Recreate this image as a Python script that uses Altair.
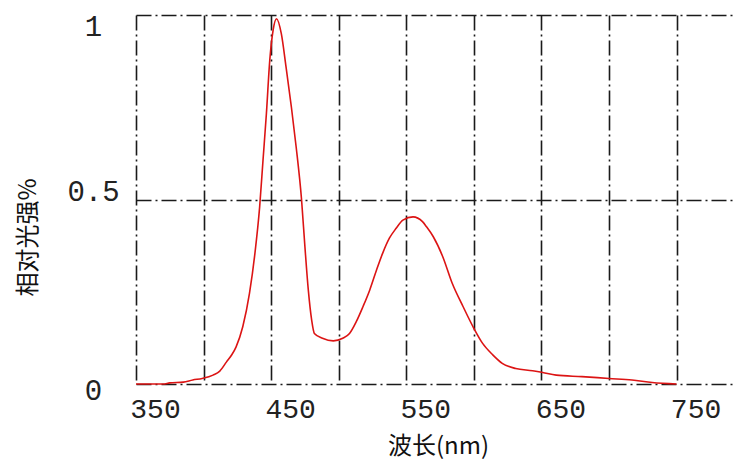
import altair as alt
import pandas as pd

wavelength = [350, 370, 375, 385, 392, 399, 407, 412, 417, 421, 424, 429, 434, 438,
              441.5, 444, 446.5, 449, 451.5, 454, 457.5, 461, 465, 468.5, 472.5, 475,
              477.5, 480, 482, 488, 496, 503, 508, 513, 518, 523, 528, 532.5, 537.5,
              542.5, 547.5, 555, 562, 565, 570, 577, 584, 592, 600, 606.5, 614, 621,
              631, 643.5, 651, 661, 680, 700, 717, 732, 750]
intensity = [0, 0, 0.003, 0.005, 0.011, 0.015, 0.024, 0.035, 0.06, 0.08, 0.10, 0.155,
             0.246, 0.354, 0.48, 0.607, 0.733, 0.878, 0.96, 0.99, 0.95, 0.86, 0.75,
             0.643, 0.5, 0.372, 0.255, 0.173, 0.137, 0.124, 0.117, 0.124, 0.137, 0.169,
             0.21, 0.255, 0.309, 0.354, 0.395, 0.422, 0.444, 0.453, 0.44, 0.426, 0.399,
             0.345, 0.273, 0.21, 0.151, 0.11, 0.079, 0.056, 0.042, 0.036, 0.031, 0.024,
             0.02, 0.015, 0.011, 0.004, 0]

x_grid = [350, 400, 450, 500, 550, 600, 650, 700, 750]
y_ticks = [0, 0.5, 1]

df = pd.DataFrame({"nm": wavelength, "val": intensity})

dash = [15, 4, 2, 4]

chart = alt.Chart(df).mark_line(color="#dc1414", strokeWidth=1.6, interpolate="monotone").encode(
    x=alt.X("nm:Q", scale=alt.Scale(domain=[350, 794], nice=False, zero=False),
            axis=alt.Axis(values=x_grid, title="波长(nm)", domain=False, ticks=False, tickSize=0,
                          grid=True, gridColor="#1a1a1a", gridWidth=1.6, gridDash=dash, gridOpacity=1,
                          labelExpr="datum.value % 100 == 50 ? datum.label : ''",
                          labelFont="Liberation Mono", labelFontSize=28, labelColor="#222222",
                          labelBaseline="middle", labelAlign="center", labelPadding=25, labelOffset=19,
                          labelOverlap=False, labelFlush=False,
                          titleFont="Noto Sans CJK SC", titleFontSize=24, titleFontWeight="normal",
                          titleColor="#111111", titleX=302, titleY=62, titleBaseline="middle",
                          titleAlign="center")),
    y=alt.Y("val:Q", scale=alt.Scale(domain=[0, 1], nice=False),
            axis=alt.Axis(values=y_ticks, title="相对光强%", domain=False, ticks=False, tickSize=0,
                          grid=True, gridColor="#1a1a1a", gridWidth=1.6, gridDash=dash, gridOpacity=1,
                          format=".1~f",
                          labelFont="Liberation Mono", labelFontSize=29, labelColor="#222222",
                          labelBaseline="middle", labelAlign="center", labelPadding=43,
                          labelOffset={"condition": [{"test": "datum.value == 1", "value": 11},
                                                     {"test": "datum.value == 0.5", "value": -8}],
                                       "value": 6},
                          labelOverlap=False, labelFlush=False,
                          titleFont="Noto Sans CJK SC", titleFontSize=24, titleFontWeight="normal",
                          titleColor="#111111", titleX=-108, titleY=222, titleBaseline="middle",
                          titleAlign="center", titleAngle=270)),
).properties(
    width=600, height=369,
    autosize=alt.AutoSizeParams(type="none"),
    padding={"left": 128, "top": 7, "right": 0, "bottom": 76},
    background="white",
).configure_view(stroke=None)

chart.save("out.html", embed_options={"renderer": "svg", "actions": False})
